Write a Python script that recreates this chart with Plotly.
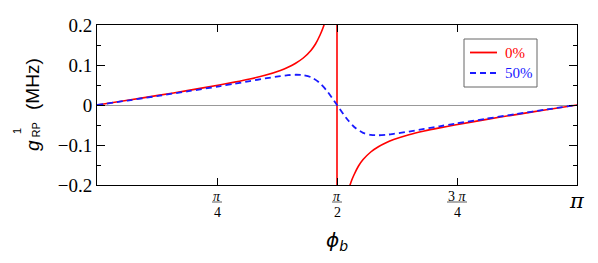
import numpy as np
import plotly.graph_objects as go

# ---------------- data ----------------
phi_red_left = [0.0, 0.2, 0.4, 0.6, 0.8, 0.9, 1.0, 1.1, 1.2, 1.25, 1.3, 1.35,
                1.4, 1.43, 1.46, 1.48, 1.50, 1.52]
g_red_left = [0.0, 0.0118, 0.0240, 0.0365, 0.0500, 0.0572, 0.0650, 0.0743, 0.0865, 0.0945, 0.1045, 0.1175,
              0.1365, 0.1525, 0.1750, 0.1935, 0.2200, 0.2600]

phi_red_right = [1.6216, 1.6416, 1.6616, 1.6816, 1.7116, 1.7416, 1.7916, 1.8416, 1.8916, 1.9416,
                 2.0416, 2.1416, 2.2416, 2.3416, 2.5416, 2.7416, 2.9416, 3.1416]
g_red_right = [-0.2600, -0.2200, -0.1935, -0.1750, -0.1525, -0.1365, -0.1175, -0.1045, -0.0945, -0.0865,
               -0.0743, -0.0650, -0.0572, -0.0500, -0.0365, -0.0240, -0.0118, 0.0]

phi_pole = [np.pi / 2]

phi_blue = [0.0, 0.2, 0.4, 0.6, 0.8, 0.9, 1.0, 1.1, 1.2, 1.25, 1.3, 1.35, 1.4, 1.45, 1.5, 1.5708,
            1.6416, 1.6916, 1.7416, 1.7916, 1.8416, 1.8916, 1.9416, 2.0416, 2.1416, 2.2416, 2.3416,
            2.5416, 2.7416, 2.9416, 3.1416]
g_blue = [0.0, 0.0112, 0.0228, 0.0346, 0.0468, 0.0532, 0.0598, 0.0664, 0.0722, 0.0745, 0.0756, 0.0746,
          0.0695, 0.0575, 0.0375, 0.0,
          -0.0375, -0.0575, -0.0695, -0.0746, -0.0756, -0.0745, -0.0722, -0.0664, -0.0598, -0.0532, -0.0468,
          -0.0346, -0.0228, -0.0112, 0.0]

series_names = ["0%", "50%"]
x_tick_vals = [np.pi / 4, np.pi / 2, 3 * np.pi / 4]
x_tick_num = ["<i>π</i>", "<i>π</i>", "3 <i>π</i>"]
x_tick_den = ["4", "2", "4"]
y_tick_vals = [-0.2, -0.1, 0.0, 0.1, 0.2]
y_tick_text = ["−0.2", "−0.1", "0", "0.1", "0.2"]
YRANGE = [-0.2, 0.2]

RED = "#ff0000"
BLUE = "#1a1aff"
SERIF = "Liberation Serif"
SANS = "Liberation Sans"

# plot-area geometry in pixels (for text placed outside the axes)
L, T, W, H = 97, 25, 480, 160
def px2paper(px, py):
    return (px - L) / W, (T + H - py) / H

fig = go.Figure()
fig.add_trace(go.Scatter(x=phi_red_left, y=g_red_left, mode="lines",
                         line=dict(color=RED, width=1.6, shape="spline", smoothing=0.8),
                         name=series_names[0], showlegend=False))
fig.add_trace(go.Scatter(x=[phi_pole[0], phi_pole[0]], y=[YRANGE[1], YRANGE[0]], mode="lines",
                         line=dict(color=RED, width=1.6), showlegend=False))
fig.add_trace(go.Scatter(x=phi_red_right, y=g_red_right, mode="lines",
                         line=dict(color=RED, width=1.6, shape="spline", smoothing=0.8),
                         showlegend=False))
fig.add_trace(go.Scatter(x=phi_blue, y=g_blue, mode="lines",
                         line=dict(color=BLUE, width=1.8, dash="6px,4px", shape="spline", smoothing=0.8),
                         name=series_names[1], showlegend=False))

fig.update_xaxes(range=[0, np.pi], showgrid=False, zeroline=False, showline=True, linecolor="black", linewidth=1,
                 mirror="ticks", ticks="inside", ticklen=7, tickcolor="black", tickwidth=1,
                 tickvals=x_tick_vals, showticklabels=False)
fig.update_yaxes(range=YRANGE, showgrid=False, zeroline=True, zerolinecolor="#999999", zerolinewidth=1,
                 showline=True, linecolor="black", linewidth=1, mirror="ticks", ticks="inside", ticklen=8,
                 tickcolor="black", tickwidth=1, tickvals=y_tick_vals, ticktext=y_tick_text,
                 tickfont=dict(family=SERIF, size=19, color="black"),
                 minor=dict(ticks="inside", ticklen=4, tickcolor="black", dtick=0.05, tick0=0, showgrid=False))

annotations = []
shapes = []
for xv, num, den in zip(x_tick_vals, x_tick_num, x_tick_den):
    annotations.append(dict(x=xv, y=0, xref="x", yref="paper", yshift=-11, text=num, showarrow=False,
                            xanchor="center", yanchor="middle", font=dict(family=SERIF, size=14, color="black")))
    annotations.append(dict(x=xv, y=0, xref="x", yref="paper", yshift=-27, text=den, showarrow=False,
                            xanchor="center", yanchor="middle", font=dict(family=SERIF, size=14, color="black")))
    half = 10 if "3" in num else 5
    shapes.append(dict(type="line", xref="x", yref="paper", xsizemode="pixel", xanchor=xv, x0=-half, x1=half,
                       ysizemode="pixel", yanchor=0, y0=-17, y1=-17, line=dict(color="#333333", width=0.8)))
# pi at the end of the axis
annotations.append(dict(x=np.pi, y=0, xref="x", yref="paper", yshift=-16, text="<i>π</i>", showarrow=False,
                        xanchor="center", yanchor="middle", font=dict(family="DejaVu Serif", size=21, color="black")))
# x title
annotations.append(dict(x=0.5, y=0, xref="paper", yref="paper", yshift=-56, text="<i>ϕ</i><sub><i>b</i></sub>",
                        showarrow=False, xanchor="center", yanchor="middle",
                        font=dict(family="DejaVu Sans", size=20, color="black")))

# y title pieces (rotated)
def ytitle(text, px, py, size):
    return dict(x=0, y=0, xref="paper", yref="paper", xshift=px - L, yshift=T + H - py, text=text, showarrow=False,
                textangle=-90, xanchor="center", yanchor="middle", font=dict(family=SANS, size=size, color="black"))

annotations.append(ytitle("(MHz)", 32, 84, 19))
annotations.append(ytitle("<i>g</i>", 32, 146, 19))
annotations.append(ytitle("RP", 35, 130.5, 11))
annotations.append(ytitle("1", 17, 131, 11))

# legend drawn as box + samples + labels
bx0, by0 = px2paper(464, 39)
bx1, by1 = px2paper(537, 87)
shapes.append(dict(type="rect", xref="paper", yref="paper", x0=bx0, x1=bx1, y0=by1, y1=by0,
                   line=dict(color="#666666", width=1), fillcolor="white", layer="above"))
for name, color, dash, py in [(series_names[0], RED, "solid", 52.5), (series_names[1], BLUE, "6px,4px", 73)]:
    sx0, sy = px2paper(470, py)
    sx1, _ = px2paper(497, py)
    shapes.append(dict(type="line", xref="paper", yref="paper", x0=sx0, x1=sx1, y0=sy, y1=sy,
                       line=dict(color=color, width=1.8, dash=dash), layer="above"))
    tx, _ = px2paper(503, py)
    annotations.append(dict(x=tx, y=sy, xref="paper", yref="paper", text=name, showarrow=False,
                            xanchor="left", yanchor="middle", font=dict(family=SERIF, size=15, color=color)))

fig.update_layout(
    width=598, height=263, margin=dict(l=L, r=598 - L - W, t=T, b=263 - T - H),
    plot_bgcolor="white", paper_bgcolor="white",
    annotations=annotations, shapes=shapes, showlegend=False,
)
fig.write_html("out.html", config={"displayModeBar": False},
               post_script=["document.body.style.margin='0px';"])
